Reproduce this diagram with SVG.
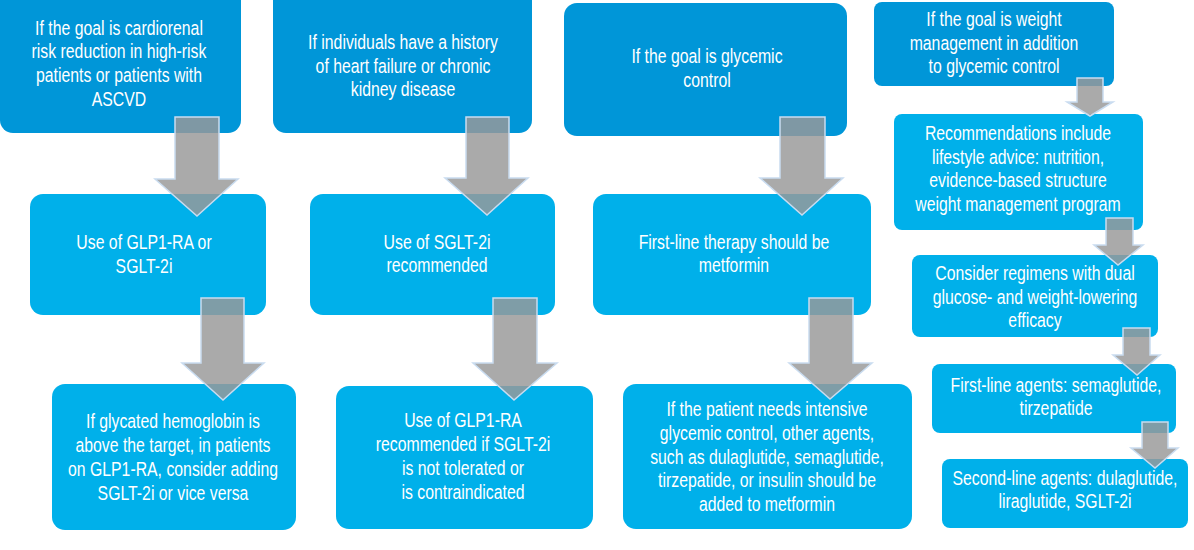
<svg xmlns="http://www.w3.org/2000/svg" width="1194" height="550" viewBox="0 0 1194 550">
<style>
.top{fill:#0096D8}
.box{fill:#00B0EA}
text{font-family:"Liberation Sans",Arial,sans-serif;font-size:19.3px;fill:#FFFFFF;text-anchor:middle}
.arr{fill:#999999;fill-opacity:0.83;stroke:#C9DCF0;stroke-width:1.5;stroke-linejoin:miter}
</style>
<rect width="1194" height="550" fill="#FFFFFF"/>
<g id="n1"><rect class="top" x="0" y="-12" width="241" height="145" rx="13"/>
<g transform="translate(119 0) scale(0.82 1)"><text x="0" y="35">If the goal is cardiorenal</text><text x="0" y="58">risk reduction in high-risk</text><text x="0" y="82">patients or patients with</text><text x="0" y="106">ASCVD</text></g></g>
<g id="n2"><rect class="box" x="30" y="194" width="236" height="121" rx="13"/>
<g transform="translate(144 0) scale(0.82 1)"><text x="0" y="249">Use of GLP1-RA or</text><text x="0" y="273">SGLT-2i</text></g></g>
<g id="n3"><rect class="box" x="52" y="384" width="244" height="146" rx="13"/>
<g transform="translate(173 0) scale(0.82 1)"><text x="0" y="428">If glycated hemoglobin is</text><text x="0" y="452">above the target, in patients</text><text x="0" y="476">on GLP1-RA, consider adding</text><text x="0" y="500">SGLT-2i or vice versa</text></g></g>
<g id="n4"><rect class="top" x="273" y="-12" width="259" height="145" rx="13"/>
<g transform="translate(403 0) scale(0.82 1)"><text x="0" y="49">If individuals have a history</text><text x="0" y="73">of heart failure or chronic</text><text x="0" y="96">kidney disease</text></g></g>
<g id="n5"><rect class="box" x="310" y="194" width="245" height="121" rx="13"/>
<g transform="translate(437 0) scale(0.82 1)"><text x="0" y="249">Use of SGLT-2i</text><text x="0" y="272">recommended</text></g></g>
<g id="n6"><rect class="box" x="336" y="386" width="257" height="143" rx="13"/>
<g transform="translate(463 0) scale(0.82 1)"><text x="0" y="427">Use of GLP1-RA</text><text x="0" y="451">recommended if SGLT-2i</text><text x="0" y="475">is not tolerated or</text><text x="0" y="499">is contraindicated</text></g></g>
<g id="n7"><rect class="top" x="564" y="3" width="283" height="133" rx="13"/>
<g transform="translate(707 0) scale(0.82 1)"><text x="0" y="63">If the goal is glycemic</text><text x="0" y="87">control</text></g></g>
<g id="n8"><rect class="box" x="593" y="194" width="278" height="121" rx="13"/>
<g transform="translate(734 0) scale(0.82 1)"><text x="0" y="249">First-line therapy should be</text><text x="0" y="272">metformin</text></g></g>
<g id="n9"><rect class="box" x="623" y="384" width="289" height="145" rx="13"/>
<g transform="translate(767 0) scale(0.82 1)"><text x="0" y="416">If the patient needs intensive</text><text x="0" y="440">glycemic control, other agents,</text><text x="0" y="464">such as dulaglutide, semaglutide,</text><text x="0" y="487">tirzepatide, or insulin should be</text><text x="0" y="511">added to metformin</text></g></g>
<g id="n10"><rect class="top" x="874" y="2" width="240" height="84" rx="8"/>
<g transform="translate(994 0) scale(0.82 1)"><text x="0" y="26">If the goal is weight</text><text x="0" y="50">management in addition</text><text x="0" y="73">to glycemic control</text></g></g>
<g id="n11"><rect class="box" x="894" y="114" width="249" height="116" rx="8"/>
<g transform="translate(1018 0) scale(0.82 1)"><text x="0" y="140">Recommendations include</text><text x="0" y="164">lifestyle advice: nutrition,</text><text x="0" y="187">evidence-based structure</text><text x="0" y="211">weight management program</text></g></g>
<g id="n12"><rect class="box" x="912" y="255" width="246" height="82" rx="8"/>
<g transform="translate(1035 0) scale(0.82 1)"><text x="0" y="280">Consider regimens with dual</text><text x="0" y="304">glucose- and weight-lowering</text><text x="0" y="327">efficacy</text></g></g>
<g id="n13"><rect class="box" x="932" y="364" width="244" height="69" rx="8"/>
<g transform="translate(1056 0) scale(0.82 1)"><text x="0" y="392">First-line agents: semaglutide,</text><text x="0" y="415">tirzepatide</text></g></g>
<g id="n14"><rect class="box" x="942" y="459" width="246" height="69" rx="8"/>
<g transform="translate(1065 0) scale(0.82 1)"><text x="0" y="485">Second-line agents: dulaglutide,</text><text x="0" y="508">liraglutide, SGLT-2i</text></g></g>
<g id="connectors">
<polygon class="arr" points="175,117 219,117 219,179 238,179 197,216 155,179 175,179"/>
<polygon class="arr" points="201,298 244,298 244,363 264,363 223,400 182,363 201,363"/>
<polygon class="arr" points="466,117 509,117 509,178 528,178 487,215 445,178 466,178"/>
<polygon class="arr" points="493,298 537,298 537,363 557,363 514,400 473,363 493,363"/>
<polygon class="arr" points="780,117 825,117 825,178 843,178 802,215 760,178 780,178"/>
<polygon class="arr" points="809,298 853,298 853,363 872,363 830,399 789,363 809,363"/>
<polygon class="arr" points="1077,78 1103,78 1103,102 1113,102 1090,116 1067,102 1077,102"/>
<polygon class="arr" points="1106,218 1133,218 1133,245 1143,245 1118,265 1094,245 1106,245"/>
<polygon class="arr" points="1123,328 1150,328 1150,355 1160,355 1137,375 1113,355 1123,355"/>
<polygon class="arr" points="1142,422 1168,422 1168,448 1178,448 1155,468 1131,448 1142,448"/>
</g>
</svg>
